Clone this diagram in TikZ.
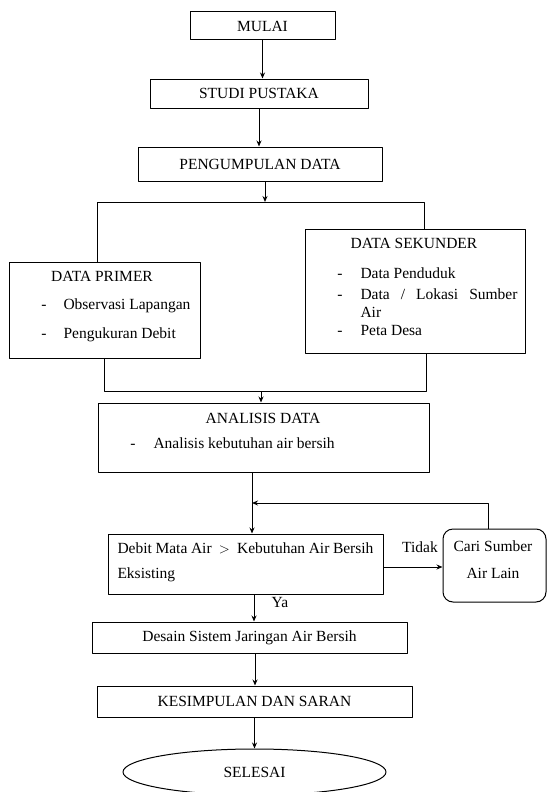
\documentclass[tikz,border=0pt]{standalone}
\usepackage{fontspec}
\setmainfont{Liberation Serif}
\usetikzlibrary{arrows.meta,shapes.geometric}
\tikzset{
  kotak/.style={draw, inner sep=0pt},
  teks/.style={anchor=base west, inner sep=0pt},
  judul/.style={anchor=base, inner sep=0pt},
}
\begin{document}
\begin{tikzpicture}[x=1pt, y=-1pt, line width=1pt, line join=round, font=\fontsize{15.5}{18}\selectfont, >={Stealth[length=6pt,width=5pt]}]
		\useasboundingbox (0,0) rectangle (548,792);
		% kotak-kotak utama
		\node[kotak, minimum width=145pt, minimum height=28pt] (mulai) at (262.5,26) {MULAI};
		\node[kotak, minimum width=218pt, minimum height=29pt] (studi) at (259,93.5) {STUDI PUSTAKA};
		\node[kotak, minimum width=244pt, minimum height=34pt] (kumpul) at (260,164) {PENGUMPULAN DATA};
		\node[kotak, minimum width=191pt, minimum height=96pt] (primer) at (104.5,310) {};
		\node[kotak, minimum width=220pt, minimum height=124pt] (sekunder) at (415,291) {};
		\node[kotak, minimum width=331pt, minimum height=69pt] (analisis) at (263.5,437.5) {};
		\node[kotak, minimum width=275pt, minimum height=60pt] (keputusan) at (245.5,564) {};
		\node[kotak, rounded corners=10pt, minimum width=103pt, minimum height=73pt] (cari) at (494.5,565.5) {};
		\node[kotak, minimum width=315pt, minimum height=31pt] (desain) at (249.5,637.5) {Desain Sistem Jaringan Air Bersih};
		\node[kotak, minimum width=315pt, minimum height=31pt] (simpul) at (254.5,701.5) {KESIMPULAN DAN SARAN};
		\node[kotak, ellipse, minimum width=263pt, minimum height=46pt] (selesai) at (254.5,772) {SELESAI};
		% isi kotak
		\node[judul] (primer-j) at (102,281) {DATA PRIMER};
		\foreach \y/\t [count=\i] in {309/Observasi Lapangan, 338/Pengukuran Debit} {
			\node[judul] (primer-s\i) at (44,\y) {-};
			\node[teks] (primer-\i) at (63,\y) {\t};
		}
		\node[judul] (sekunder-j) at (414,248) {DATA SEKUNDER};
		\foreach \y [count=\i] in {278,299,335}
			\node[judul] (sekunder-s\i) at (340,\y) {-};
		\node[teks] (sekunder-1) at (360,278) {Data Penduduk};
		\node[teks] (sekunder-2) at (360,299) {\makebox[157pt][s]{Data / Lokasi Sumber}};
		\node[teks] (sekunder-2b) at (360,317) {Air};
		\node[teks] (sekunder-3) at (360,335) {Peta Desa};
		\node[judul] (analisis-j) at (263,423) {ANALISIS DATA};
		\node[judul] (analisis-s) at (133,448) {-};
		\node[teks] (analisis-1) at (153,448) {Analisis kebutuhan air bersih};
		\node[teks] (keputusan-1) at (117,553) {\makebox[256pt][s]{Debit Mata Air \ $>$ \ Kebutuhan Air Bersih}};
		\node[teks] (keputusan-2) at (117,578) {Eksisting};
		\node[judul] (cari-1) at (493,551) {Cari Sumber};
		\node[judul] (cari-2) at (493,578) {Air Lain};
		\node[judul] (tidak) at (420,552) {Tidak};
		\node[judul] (ya) at (280,607) {Ya};
		% panah
		\draw[->] (mulai.south) -- (mulai.south |- studi.north);
		\draw[->] (studi.south) -- (studi.south |- kumpul.north);
		\coordinate (bagi) at (265,202);
		\coordinate (bagiL) at (97,202);
		\coordinate (bagiR) at (424,202);
		\draw[->] (kumpul.south -| bagi) -- (bagi);
		\draw (primer.north -| bagiL) -- (bagiL) -- (bagiR) -- (sekunder.north -| bagiR);
		\coordinate (gabung) at (261,391);
		\coordinate (gabungL) at (104,391);
		\coordinate (gabungR) at (426,391);
		\draw (primer.south -| gabungL) -- (gabungL) -- (gabungR) -- (sekunder.south -| gabungR);
		\draw[->] (gabung) -- (analisis.north -| gabung);
		\coordinate (balik) at (252,503);
		\draw[->] (analisis.south -| balik) -- (keputusan.north -| balik);
		\draw[->] ([xshift=-6pt]cari.north) |- (balik);
		\draw[->] ([yshift=-3pt]keputusan.east) coordinate (k1) -- (cari.west |- k1);
		\draw[->] ([xshift=8.5pt]keputusan.south) coordinate (k2) -- (desain.north -| k2);
		\draw[->] ([xshift=5.5pt]desain.south) coordinate (d1) -- (simpul.north -| d1);
		\draw[->] (simpul.south) -- (simpul.south |- selesai.north);
\end{tikzpicture}
\end{document}
